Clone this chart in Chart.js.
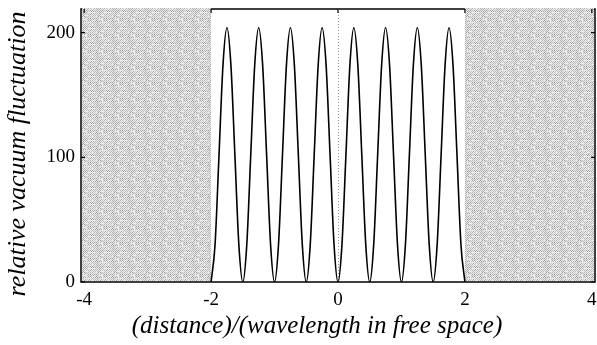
<!DOCTYPE html>
<html>
<head>
<meta charset="utf-8">
<title>relative vacuum fluctuation</title>
<script src="https://cdn.jsdelivr.net/npm/chart.js@4.4.1/dist/chart.umd.min.js"></script>
<style>
  html, body { margin: 0; padding: 0; background: #ffffff; }
  #wrap { width: 597px; height: 345px; }
</style>
</head>
<body>
<div id="wrap"><canvas id="myChart" width="597" height="345"></canvas></div>
<script>
// distance / wavelength
const distances = [
  -2, -1.9375, -1.875, -1.8125, -1.75, -1.6875, -1.625, -1.5625,
  -1.5, -1.4375, -1.375, -1.3125, -1.25, -1.1875, -1.125, -1.0625,
  -1, -0.9375, -0.875, -0.8125, -0.75, -0.6875, -0.625, -0.5625,
  -0.5, -0.4375, -0.375, -0.3125, -0.25, -0.1875, -0.125, -0.0625,
  0, 0.0625, 0.125, 0.1875, 0.25, 0.3125, 0.375, 0.4375,
  0.5, 0.5625, 0.625, 0.6875, 0.75, 0.8125, 0.875, 0.9375,
  1, 1.0625, 1.125, 1.1875, 1.25, 1.3125, 1.375, 1.4375,
  1.5, 1.5625, 1.625, 1.6875, 1.75, 1.8125, 1.875, 1.9375,
  2
];

// relative vacuum fluctuation
const fluctuation = [
  0, 30, 102, 174, 204, 174, 102, 30,
  0, 30, 102, 174, 204, 174, 102, 30,
  0, 30, 102, 174, 204, 174, 102, 30,
  0, 30, 102, 174, 204, 174, 102, 30,
  0, 30, 102, 174, 204, 174, 102, 30,
  0, 30, 102, 174, 204, 174, 102, 30,
  0, 30, 102, 174, 204, 174, 102, 30,
  0, 30, 102, 174, 204, 174, 102, 30,
  0
];

// tick labels
const xTicks = [-4, -2, 0, 2, 4];
const yTicks = [0, 100, 200];

// shaded zones outside the cavity
const shadedZones = [[-4.05, -2], [2, 4.05]];

const xTitle = '(distance)/(wavelength in free space)';
const yTitle = 'relative vacuum fluctuation';

// dotted grey texture for the shaded zones
function makeStipple(ctx) {
  const n = 16;
  const tile = document.createElement('canvas');
  tile.width = n;
  tile.height = n;
  const t = tile.getContext('2d');
  t.fillStyle = '#ebebeb';
  t.fillRect(0, 0, n, n);
  for (let j = 0; j < n; j++) {
    for (let i = 0; i < n; i++) {
      if ((i + j) % 2 !== 0) continue;
      // fixed hash so the dither is the same every time
      const v = (((i * 73856093) ^ (j * 19349663)) >>> 0) % 9;
      if (v === 0) continue;
      t.fillStyle = v < 3 ? '#9c9c9c' : (v < 7 ? '#b6b6b6' : '#c8c8c8');
      t.fillRect(i, j, 1, 1);
    }
  }
  return ctx.createPattern(tile, 'repeat');
}

// background zones, frame, inward ticks and dotted centre line
const framePlugin = {
  id: 'frame',
  beforeDatasetsDraw(chart) {
    const ctx = chart.ctx;
    const a = chart.chartArea;
    const x = chart.scales.x;
    const y = chart.scales.y;
    ctx.save();

    // frame
    ctx.strokeStyle = '#000';
    ctx.lineWidth = 1.5;
    ctx.strokeRect(a.left, a.top, a.right - a.left, a.bottom - a.top);

    // shaded zones
    ctx.fillStyle = makeStipple(ctx);
    shadedZones.forEach(z => {
      const x0 = Math.max(x.getPixelForValue(z[0]), a.left + 1);
      const x1 = Math.min(x.getPixelForValue(z[1]), a.right - 1);
      ctx.fillRect(x0, a.top - 1, x1 - x0, a.bottom - a.top);
    });

    // dotted line at zero distance
    ctx.strokeStyle = '#9a9a9a';
    ctx.lineWidth = 1;
    ctx.setLineDash([1, 2]);
    const x0 = Math.round(x.getPixelForValue(0)) + 0.5;
    ctx.beginPath();
    ctx.moveTo(x0, a.top);
    ctx.lineTo(x0, a.bottom);
    ctx.stroke();
    ctx.setLineDash([]);

    // small inward ticks
    ctx.strokeStyle = '#000';
    ctx.lineWidth = 1.2;
    yTicks.forEach(v => {
      const py = y.getPixelForValue(v);
      ctx.beginPath();
      ctx.moveTo(a.left, py);
      ctx.lineTo(a.left + 4, py);
      ctx.moveTo(a.right, py);
      ctx.lineTo(a.right - 4, py);
      ctx.stroke();
    });
    xTicks.forEach(v => {
      const px = x.getPixelForValue(v);
      ctx.beginPath();
      ctx.moveTo(px, a.top);
      ctx.lineTo(px, a.top + 4);
      ctx.stroke();
    });
    ctx.restore();
  },
  afterDraw(chart) {
    const ctx = chart.ctx;
    ctx.save();
    ctx.fillStyle = '#000';
    ctx.textAlign = 'center';
    ctx.textBaseline = 'middle';

    // x axis title
    ctx.font = 'italic 25px "Liberation Serif"';
    ctx.fillText(xTitle, 317, 326);

    // y axis title
    ctx.translate(18, 154);
    ctx.rotate(-Math.PI / 2);
    ctx.font = 'italic 26px "Liberation Serif"';
    ctx.fillText(yTitle, 0, 0);
    ctx.restore();
  }
};

const ctx = document.getElementById('myChart').getContext('2d');
const myChart = new Chart(ctx, {
  type: 'line',
  data: {
    datasets: [{
      label: yTitle,
      data: distances.map((d, i) => ({ x: d, y: fluctuation[i] })),
      borderColor: '#000',
      borderWidth: 1.6,
      pointRadius: 0,
      fill: false,
      cubicInterpolationMode: 'monotone'
    }]
  },
  options: {
    responsive: false,
    animation: false,
    layout: { padding: { left: 0, right: 2, top: 9, bottom: 0 } },
    plugins: {
      legend: { display: false },
      tooltip: { enabled: false }
    },
    scales: {
      x: {
        type: 'linear',
        min: -4.05,
        max: 4.05,
        grid: { display: false, drawTicks: false },
        border: { display: false },
        afterBuildTicks: s => { s.ticks = xTicks.map(v => ({ value: v })); },
        afterFit: s => { s.height = 63; s.paddingLeft = 0; s.paddingRight = 0; },
        ticks: {
          padding: 7,
          color: '#000',
          maxRotation: 0,
          font: { family: '"Liberation Serif"', size: 19 }
        }
      },
      y: {
        min: 0,
        max: 219,
        grid: { display: false, drawTicks: false },
        border: { display: false },
        afterBuildTicks: s => { s.ticks = yTicks.map(v => ({ value: v })); },
        afterFit: s => { s.width = 81; s.paddingTop = 0; s.paddingBottom = 0; },
        ticks: {
          padding: 6,
          color: '#000',
          font: { family: '"Liberation Serif"', size: 19 }
        }
      }
    }
  },
  plugins: [framePlugin]
});
</script>
</body>
</html>
